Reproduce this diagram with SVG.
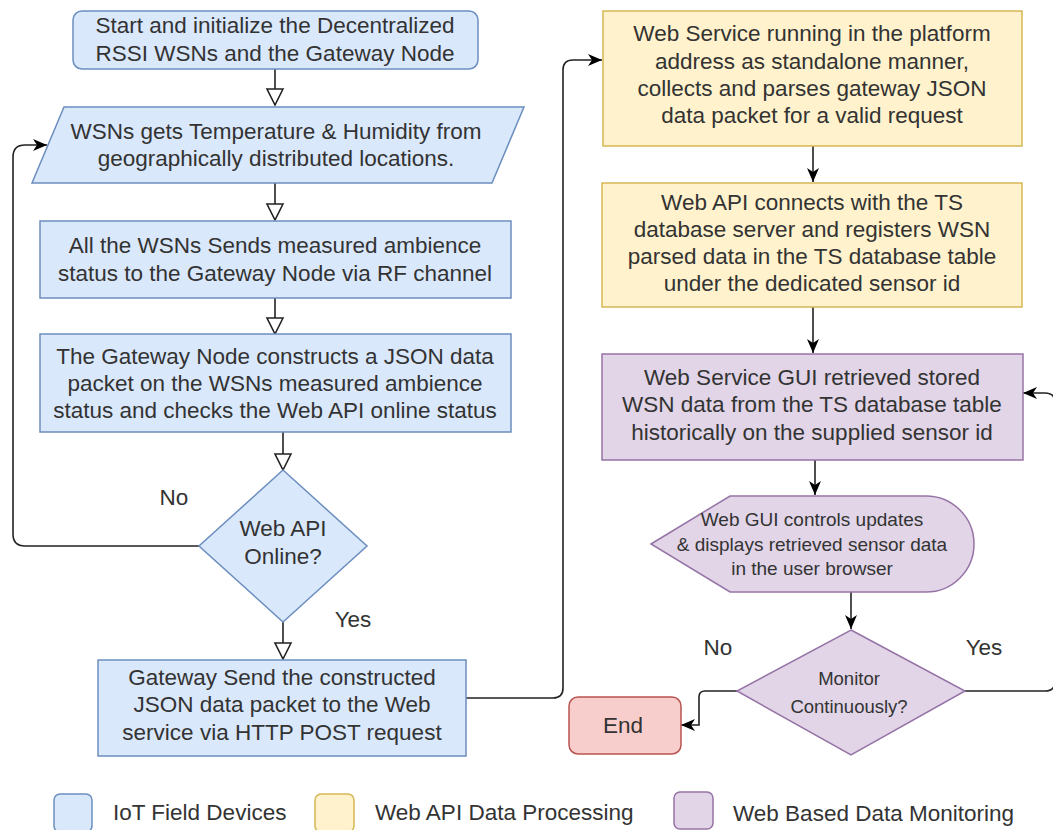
<svg xmlns="http://www.w3.org/2000/svg" width="1053" height="830" viewBox="0 0 1053 830">
<style>
  text { font-family: "Liberation Sans", Arial, sans-serif; fill: #333333; text-anchor: middle; dominant-baseline: central; }
  .t { font-size: 22.5px; }
  .s { font-size: 19px; }
  .m { font-size: 18.5px; }
  .lg { text-anchor: start; font-size: 22.5px; }
  .blue { fill: #dae8fc; stroke: #6c8ebf; stroke-width: 1.5; }
  .yel { fill: #fff2cc; stroke: #d6b656; stroke-width: 1.5; }
  .pur { fill: #e1d5e7; stroke: #9673a6; stroke-width: 1.5; }
  .red { fill: #f8cecc; stroke: #b85450; stroke-width: 1.5; }
  .c { fill: none; stroke: #222222; stroke-width: 1.6; }
  .co { marker-end: url(#open); }
  .cc { marker-end: url(#classic); }
</style>
<defs>
  <marker id="open" markerUnits="userSpaceOnUse" markerWidth="20" markerHeight="20" viewBox="0 0 20 20" refX="18" refY="10" orient="auto">
    <path d="M2,2 L18,10 L2,18 Z" fill="#ffffff" stroke="#222222" stroke-width="1.6"/>
  </marker>
  <marker id="classic" markerUnits="userSpaceOnUse" markerWidth="16" markerHeight="14" viewBox="0 0 16 14" refX="15" refY="7" orient="auto">
    <path d="M1,1 L15,7 L1,13 L5,7 Z" fill="#000000"/>
  </marker>
</defs>

<g id="connectors">
  <path class="c co" d="M275,69 V105"/>
  <path class="c co" d="M275,183 V220"/>
  <path class="c co" d="M275,298 V334"/>
  <path class="c co" d="M283,432 V470"/>
  <path class="c co" d="M283,622 V659"/>
  <path class="c cc" d="M199,546 H25 Q13,546 13,534 V157 Q13,145 25,145 H47"/>
  <path class="c cc" d="M466,698 H553 Q563,698 563,688 V70 Q563,60 573,60 H602"/>
  <path class="c cc" d="M813,146 V182"/>
  <path class="c cc" d="M813,307 V353"/>
  <path class="c cc" d="M815,460 V495"/>
  <path class="c cc" d="M851,592 V629"/>
  <path class="c cc" d="M737,691 H705 Q699,691 699,697 V725 H681"/>
  <path class="c cc" d="M965,691 H1045 Q1055,691 1055,681 V403 Q1055,393 1045,393 H1023"/>
</g>

<g id="start">
  <rect class="blue" x="73" y="11" width="405" height="58" rx="9"/>
  <text class="t" x="275" y="25">Start and initialize the Decentralized</text>
  <text class="t" x="275" y="53">RSSI WSNs and the Gateway Node</text>
</g>

<g id="sense">
  <path class="blue" d="M64,107 L524,107 L492,183 L32,183 Z"/>
  <text class="t" x="276" y="131">WSNs gets Temperature &amp; Humidity from</text>
  <text class="t" x="276" y="158">geographically distributed locations.</text>
</g>

<g id="send-rf">
  <rect class="blue" x="40" y="221" width="471" height="77"/>
  <text class="t" x="275" y="245">All the WSNs Sends measured ambience</text>
  <text class="t" x="275" y="273">status to the Gateway Node via RF channel</text>
</g>

<g id="construct">
  <rect class="blue" x="40" y="334" width="471" height="98"/>
  <text class="t" x="275" y="356">The Gateway Node constructs a JSON data</text>
  <text class="t" x="275" y="383">packet on the WSNs measured ambience</text>
  <text class="t" x="275" y="410">status and checks the Web API online status</text>
</g>

<g id="online">
  <path class="blue" d="M283,470 L367,546 L283,622 L199,546 Z"/>
  <text class="t" x="283" y="528">Web API</text>
  <text class="t" x="283" y="556">Online?</text>
</g>

<g id="labels-left">
  <text class="t" x="174" y="497">No</text>
  <text class="t" x="353" y="619">Yes</text>
</g>

<g id="post">
  <rect class="blue" x="98" y="660" width="368" height="96"/>
  <text class="t" x="282" y="677">Gateway Send the constructed</text>
  <text class="t" x="282" y="704">JSON data packet to the Web</text>
  <text class="t" x="282" y="732">service via HTTP POST request</text>
</g>

<g id="webservice">
  <rect class="yel" x="603" y="11" width="419" height="135"/>
  <text class="t" x="812" y="33">Web Service running in the platform</text>
  <text class="t" x="812" y="61">address as standalone manner,</text>
  <text class="t" x="812" y="88">collects and parses gateway JSON</text>
  <text class="t" x="812" y="115">data packet for a valid request</text>
</g>

<g id="webapi">
  <rect class="yel" x="602" y="183" width="420" height="124"/>
  <text class="t" x="812" y="202">Web API connects with the TS</text>
  <text class="t" x="812" y="229">database server and registers WSN</text>
  <text class="t" x="812" y="256">parsed data in the TS database table</text>
  <text class="t" x="812" y="283">under the dedicated sensor id</text>
</g>

<g id="gui">
  <rect class="pur" x="602" y="354" width="421" height="106"/>
  <text class="t" x="812" y="377">Web Service GUI retrieved stored</text>
  <text class="t" x="812" y="404">WSN data from the TS database table</text>
  <text class="t" x="812" y="432">historically on the supplied sensor id</text>
</g>

<g id="display">
  <path class="pur" d="M651,544 L730,496 L926,496 A48,48 0 0 1 926,592 L730,592 Z"/>
  <text class="s" x="812" y="519">Web GUI controls updates</text>
  <text class="s" x="812" y="544">&amp; displays retrieved sensor data</text>
  <text class="s" x="812" y="568">in the user browser</text>
</g>

<g id="monitor">
  <path class="pur" d="M851,630 L965,691 L851,755 L737,691 Z"/>
  <text class="m" x="849" y="678">Monitor</text>
  <text class="m" x="849" y="706">Continuously?</text>
</g>

<g id="labels-right">
  <text class="t" x="718" y="647">No</text>
  <text class="t" x="984" y="647">Yes</text>
</g>

<g id="end">
  <rect class="red" x="569" y="697" width="112" height="57" rx="9"/>
  <text class="t" x="623" y="725">End</text>
</g>

<g id="legend">
  <rect class="blue" x="54" y="794" width="38" height="38" rx="6"/>
  <text class="lg" x="113" y="812">IoT Field Devices</text>
  <rect class="yel" x="315" y="794" width="39" height="38" rx="6"/>
  <text class="lg" x="375" y="812">Web API Data Processing</text>
  <rect class="pur" x="674" y="792" width="39" height="37" rx="6"/>
  <text class="lg" x="733" y="813">Web Based Data Monitoring</text>
</g>
</svg>
